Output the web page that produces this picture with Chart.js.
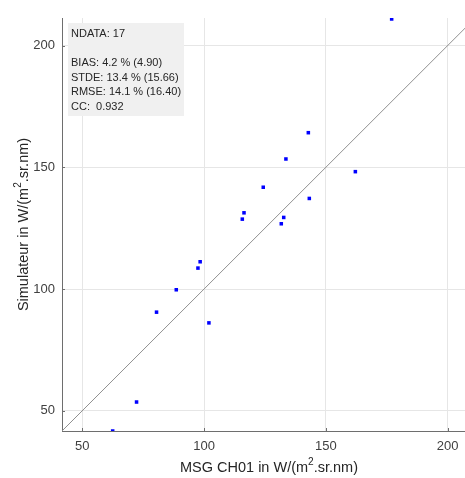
<!DOCTYPE html>
<html>
<head>
<meta charset="utf-8">
<script src="https://cdn.jsdelivr.net/npm/chart.js@4.4.0/dist/chart.umd.min.js"></script>
<style>
  html, body { margin: 0; padding: 0; background: #fff; }
</style>
</head>
<body>
<canvas id="scatterChart" width="465" height="478"></canvas>
<script>
// Valeurs (MSG CH01 vs simulateur)
const msgCh01 = [177.0, 142.8, 133.6, 162.1, 124.3, 116.4, 115.7, 132.7, 131.7, 143.2, 98.4, 97.5, 88.6, 80.5, 102.0, 72.3, 62.5];
const simulateur = [210.9, 164.2, 153.4, 148.2, 141.8, 131.3, 128.7, 129.4, 126.8, 137.2, 111.2, 108.6, 99.7, 90.5, 86.1, 53.6, 41.7];
const tickValues = [50, 100, 150, 200];
const diagonal = [41.7, 211.3];
const statsLines = ['NDATA: 17', '', 'BIAS: 4.2 % (4.90)', 'STDE: 13.4 % (15.66)', 'RMSE: 14.1 % (16.40)', 'CC:  0.932'];
const xTitle = [['MSG CH01 in W/(m', false], ['2', true], ['.sr.nm)', false]];
const yTitle = [['Simulateur in W/(m', false], ['2', true], ['.sr.nm)', false]];

const FONT = '"Liberation Sans", Arial, sans-serif';

// Texte avec exposant
function drawParts(ctx, parts, cx, cy, size) {
    let total = 0;
    parts.forEach(([t, sup]) => {
        ctx.font = (sup ? size * 0.7 : size) + 'px ' + FONT;
        total += ctx.measureText(t).width;
    });
    let x = cx - total / 2;
    ctx.textAlign = 'left';
    ctx.textBaseline = 'middle';
    parts.forEach(([t, sup]) => {
        ctx.font = (sup ? size * 0.7 : size) + 'px ' + FONT;
        ctx.fillText(t, x, sup ? cy - size * 0.38 : cy);
        x += ctx.measureText(t).width;
    });
}

const decorations = {
    id: 'decorations',
    afterDraw(chart) {
        const ctx = chart.ctx;
        const area = chart.chartArea;
        ctx.save();
        // petites graduations vers l'intérieur (style MATLAB)
        ctx.strokeStyle = '#6e6e6e';
        ctx.lineWidth = 1;
        ctx.beginPath();
        tickValues.forEach(v => {
            const px = Math.round(chart.scales.x.getPixelForValue(v)) + 0.5;
            ctx.moveTo(px, area.bottom);
            ctx.lineTo(px, area.bottom - 3);
            const py = Math.round(chart.scales.y.getPixelForValue(v)) + 0.5;
            ctx.moveTo(area.left, py);
            ctx.lineTo(area.left + 3, py);
        });
        ctx.stroke();
        // boîte de statistiques
        ctx.fillStyle = '#f0f0f0';
        ctx.fillRect(area.left + 6, area.top + 5, 116, 93);
        ctx.fillStyle = '#262626';
        ctx.font = '11px ' + FONT;
        ctx.textAlign = 'left';
        ctx.textBaseline = 'middle';
        statsLines.forEach((l, i) => ctx.fillText(l, area.left + 9, area.top + 16 + i * 14.6));
        // titres des axes
        ctx.fillStyle = '#262626';
        drawParts(ctx, xTitle, 269, 468, 14.5);
        ctx.translate(24, (area.top + area.bottom) / 2);
        ctx.rotate(-Math.PI / 2);
        drawParts(ctx, yTitle, 0, 0, 14.5);
        ctx.restore();
    }
};

const axisCommon = {
    type: 'linear',
    min: 41.7,
    afterBuildTicks: s => { s.ticks = tickValues.map(v => ({ value: v })); },
    grid: { color: '#e6e6e6', drawTicks: false },
    border: { color: '#6e6e6e', width: 1 },
    ticks: { color: '#404040', font: { family: FONT, size: 13 } }
};

const ctx = document.getElementById('scatterChart').getContext('2d');
const chart = new Chart(ctx, {
    type: 'scatter',
    data: {
        datasets: [
            {
                data: msgCh01.map((x, i) => ({ x: x, y: simulateur[i] })),
                backgroundColor: '#0000ff',
                borderColor: '#0000ff',
                pointStyle: 'rect',
                pointRadius: 2.5,
                borderWidth: 0
            },
            {
                data: diagonal.map(v => ({ x: v, y: v })),
                showLine: true,
                borderColor: '#909090',
                borderWidth: 1,
                pointRadius: 0
            }
        ]
    },
    options: {
        responsive: false,
        animation: false,
        devicePixelRatio: 1,
        layout: { autoPadding: false, padding: { top: 18, right: 0, left: 0, bottom: 0 } },
        plugins: { legend: { display: false }, tooltip: { enabled: false } },
        scales: {
            x: Object.assign({}, axisCommon, {
                max: 207.1,
                afterFit: s => { s.height = 47; s.paddingLeft = 0; s.paddingRight = 0; },
                ticks: Object.assign({}, axisCommon.ticks, { padding: 8 })
            }),
            y: Object.assign({}, axisCommon, {
                max: 211.3,
                afterFit: s => { s.width = 62; s.paddingTop = 0; s.paddingBottom = 0; },
                ticks: Object.assign({}, axisCommon.ticks, { padding: 7 })
            })
        }
    },
    plugins: [decorations]
});
</script>
</body>
</html>
